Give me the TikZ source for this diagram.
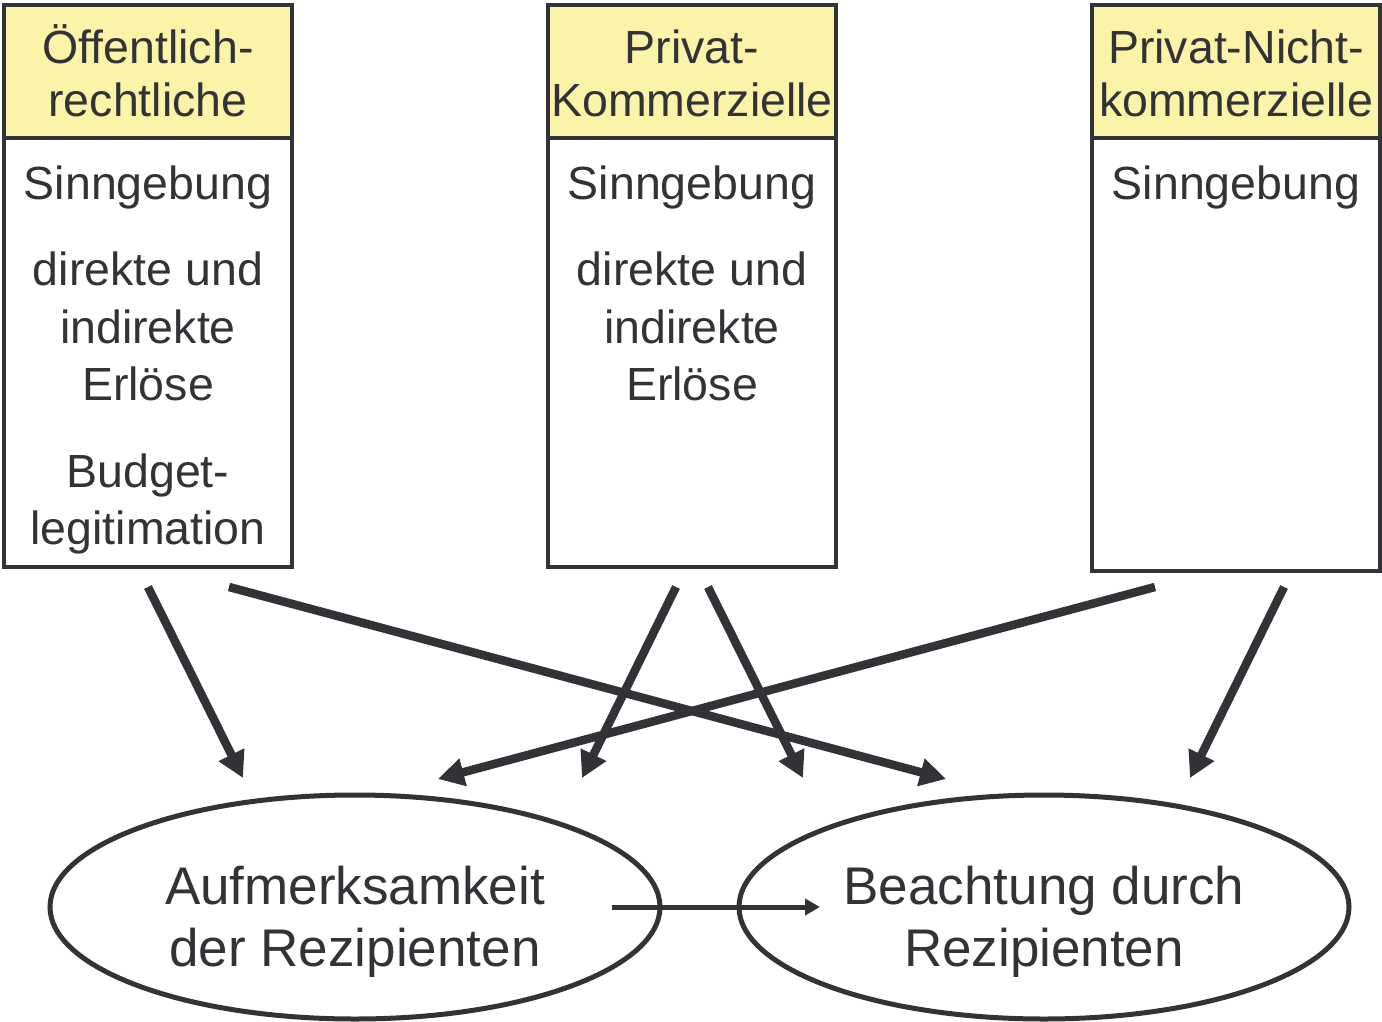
\documentclass[tikz,border=0pt]{standalone}
\usepackage{fontspec}
\setmainfont{Liberation Sans}
\usetikzlibrary{arrows.meta,shapes.geometric}
\definecolor{ink}{RGB}{51,50,55}
\definecolor{headfill}{RGB}{250,243,168}
\begin{document}
\begin{tikzpicture}[x=1pt,y=-1pt,
  boxtxt/.style={anchor=base, inner sep=0pt, font=\fontsize{46.5}{57}\selectfont, text=ink},
  elltxt/.style={anchor=base, inner sep=0pt, font=\fontsize{53}{62}\selectfont, text=ink},
  frame/.style={draw=ink, line width=4.5pt, inner sep=0pt, outer sep=0pt},
  headbox/.style={frame, fill=headfill, minimum width=288pt, minimum height=133pt, anchor=north west},
  bodybox/.style={frame, minimum width=288pt, anchor=north},
  oval/.style={frame, ellipse, line width=5pt, minimum width=610pt, minimum height=224pt},
  bigarrow/.style={draw=ink, line width=8.5pt, -{Triangle[length=26pt,width=27pt]}},
  smallarrow/.style={draw=ink, line width=5pt, -{Triangle[length=15pt,width=16pt]}}]

\useasboundingbox (0,0) rectangle (1382,1022);

% the three groups of broadcasters
\node[headbox] (h1) at (4,5) {};
\node[bodybox, minimum height=429pt] (b1) at (h1.south) {};
\node[headbox] (h2) at (548,5) {};
\node[bodybox, minimum height=429pt] (b2) at (h2.south) {};
\node[headbox] (h3) at (1092,5) {};
\node[bodybox, minimum height=433pt] (b3) at (h3.south) {};

% headings
\node[boxtxt] (t11) at (148,64) {Öffentlich-};
\node[boxtxt] (t12) at (148,117) {rechtliche};
\node[boxtxt] (t21) at (692,64) {Privat-};
\node[boxtxt] (t22) at (692,117) {Kommerzielle};
\node[boxtxt] (t31) at (1236,64) {Privat-Nicht-};
\node[boxtxt] (t32) at (1236,117) {kommerzielle};

% goals of the first group
\node[boxtxt] (g11) at (148,199) {Sinngebung};
\node[boxtxt] (g12) at (148,285) {direkte und};
\node[boxtxt] (g13) at (148,343) {indirekte};
\node[boxtxt] (g14) at (148,400) {Erlöse};
\node[boxtxt] (g15) at (148,487) {Budget-};
\node[boxtxt] (g16) at (148,544) {legitimation};

% goals of the second group
\node[boxtxt] (g21) at (692,199) {Sinngebung};
\node[boxtxt] (g22) at (692,285) {direkte und};
\node[boxtxt] (g23) at (692,343) {indirekte};
\node[boxtxt] (g24) at (692,400) {Erlöse};

% goals of the third group
\node[boxtxt] (g31) at (1236,199) {Sinngebung};

% audience outcomes
\node[oval] (e1) at (355,907) {};
\node[oval] (e2) at (1044,907) {};
\node[elltxt] (u11) at (355,904) {Aufmerksamkeit};
\node[elltxt] (u12) at (355,966) {der Rezipienten};
\node[elltxt] (u21) at (1044,904) {Beachtung durch};
\node[elltxt] (u22) at (1044,966) {Rezipienten};

% arrow end points
\coordinate (s1a) at (148,587);
\coordinate (s1b) at (229,587);
\coordinate (s2a) at (676,587);
\coordinate (s2b) at (708,587);
\coordinate (s3a) at (1155,587);
\coordinate (s3b) at (1284,587);
\coordinate (a1) at (243,778);
\coordinate (a2) at (582,778);
\coordinate (a3) at (438,779);
\coordinate (c1) at (946,779);
\coordinate (c2) at (803,778);
\coordinate (c3) at (1190,778);
\coordinate (ha) at (612,907);
\coordinate (hb) at (820,907);

\draw[bigarrow] (s1a) -- (a1);
\draw[bigarrow] (s1b) -- (c1);
\draw[bigarrow] (s2a) -- (a2);
\draw[bigarrow] (s2b) -- (c2);
\draw[bigarrow] (s3a) -- (a3);
\draw[bigarrow] (s3b) -- (c3);
\draw[smallarrow] (ha) -- (hb);
\end{tikzpicture}
\end{document}
